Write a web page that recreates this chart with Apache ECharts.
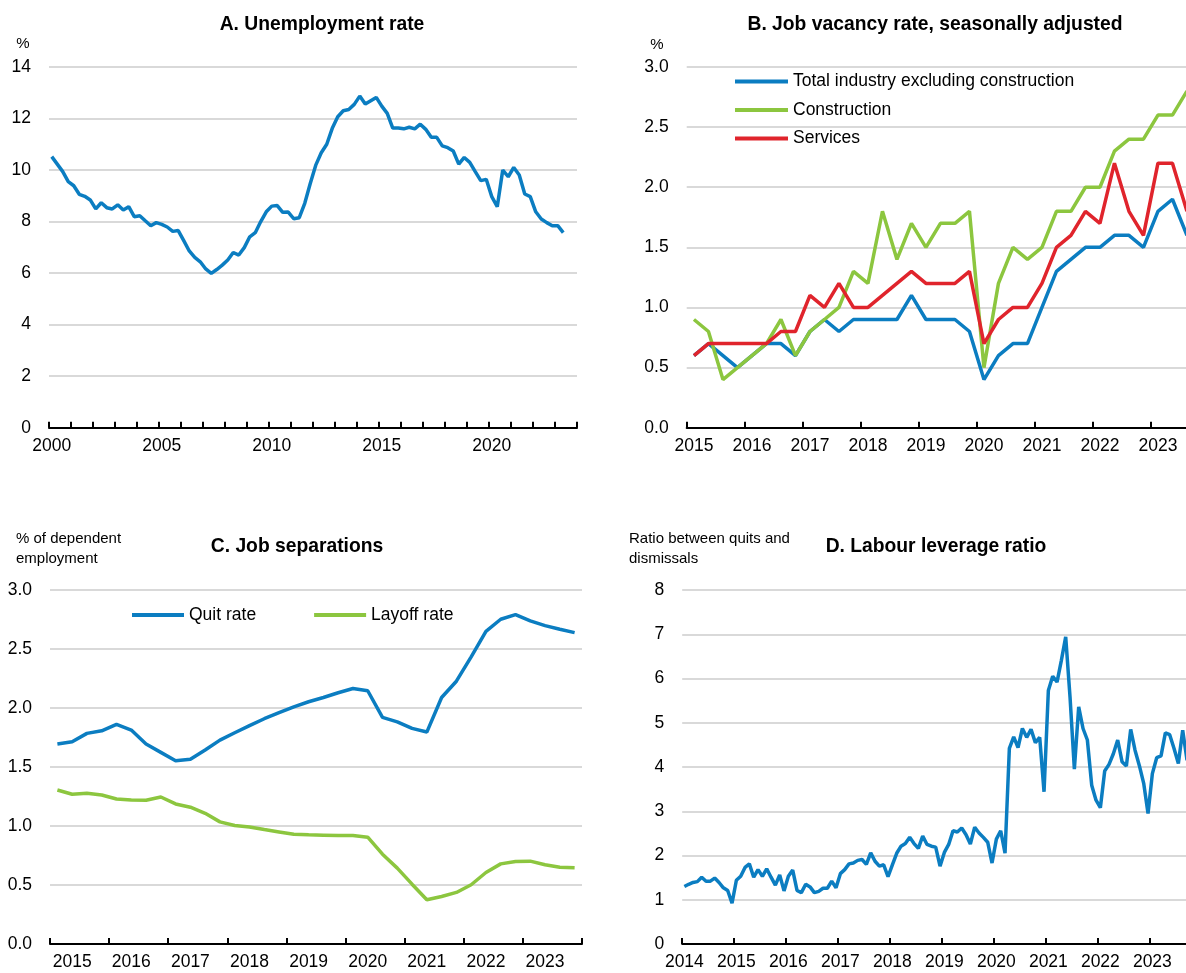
<!DOCTYPE html>
<html>
<head>
<meta charset="utf-8">
<script src="https://cdn.jsdelivr.net/npm/echarts@6/dist/echarts.min.js"></script>
<style>
html,body{margin:0;padding:0;background:#fff;}
#chart{width:1186px;height:973px;}
</style>
</head>
<body>
<div id="chart"></div>
<script>
// ---------- Data ----------
// Panel A: unemployment rate, quarterly 2000Q1-2023Q2
const unempYears = [2000, 2024];
const unemployment = [
  10.52, 10.23, 9.94, 9.55,
  9.39, 9.06, 8.98, 8.84,
  8.49, 8.73, 8.54, 8.49,
  8.65, 8.45, 8.58, 8.19,
  8.23, 8.03, 7.84, 7.96,
  7.89, 7.79, 7.62, 7.65,
  7.26, 6.86, 6.61, 6.44,
  6.16, 5.99, 6.14, 6.31,
  6.51, 6.80, 6.70, 6.99,
  7.41, 7.57, 8.00, 8.38,
  8.60, 8.62, 8.36, 8.37,
  8.11, 8.15, 8.71, 9.48,
  10.19, 10.67, 11.00, 11.62,
  12.07, 12.30, 12.35, 12.55,
  12.87, 12.56, 12.69, 12.82,
  12.48, 12.20, 11.63, 11.63,
  11.60, 11.66, 11.60, 11.78,
  11.58, 11.27, 11.27, 10.94,
  10.87, 10.74, 10.23, 10.49,
  10.30, 9.94, 9.59, 9.64,
  8.97, 8.58, 10.00, 9.74,
  10.10, 9.81, 9.07, 8.97,
  8.38, 8.10, 7.96, 7.84,
  7.84, 7.57
];

// Panel B: job vacancy rate, quarterly 2015Q1-2023Q3
const vacancyYears = [2015, 2024];
const vacTotalExConstr = [
  0.6, 0.7, 0.6, 0.5, 0.6, 0.7, 0.7, 0.6, 0.8, 0.9, 0.8, 0.9,
  0.9, 0.9, 0.9, 1.1, 0.9, 0.9, 0.9, 0.8, 0.4, 0.6, 0.7, 0.7,
  1.0, 1.3, 1.4, 1.5, 1.5, 1.6, 1.6, 1.5, 1.8, 1.9, 1.6
];
const vacConstruction = [
  0.9, 0.8, 0.4, 0.5, 0.6, 0.7, 0.9, 0.6, 0.8, 0.9, 1.0, 1.3,
  1.2, 1.8, 1.4, 1.7, 1.5, 1.7, 1.7, 1.8, 0.5, 1.2, 1.5, 1.4,
  1.5, 1.8, 1.8, 2.0, 2.0, 2.3, 2.4, 2.4, 2.6, 2.6, 2.8
];
const vacServices = [
  0.6, 0.7, 0.7, 0.7, 0.7, 0.7, 0.8, 0.8, 1.1, 1.0, 1.2, 1.0,
  1.0, 1.1, 1.2, 1.3, 1.2, 1.2, 1.2, 1.3, 0.7, 0.9, 1.0, 1.0,
  1.2, 1.5, 1.6, 1.8, 1.7, 2.2, 1.8, 1.6, 2.2, 2.2, 1.8
];

// Panel C: job separations, quarterly 2015Q1-2023Q4
const separationYears = [2015, 2024];
const quitRate = [
  1.695, 1.714, 1.785, 1.807, 1.861, 1.813, 1.695, 1.624, 1.553, 1.565, 1.644, 1.728,
  1.790, 1.850, 1.909, 1.960, 2.010, 2.053, 2.089, 2.129, 2.165, 2.146, 1.920, 1.883,
  1.827, 1.796, 2.089, 2.227, 2.433, 2.650, 2.752, 2.791, 2.738, 2.698, 2.667, 2.639
];
const layoffRate = [
  1.305, 1.269, 1.277, 1.263, 1.229, 1.221, 1.218, 1.246, 1.187, 1.159, 1.108, 1.035,
  1.004, 0.992, 0.970, 0.950, 0.930, 0.925, 0.922, 0.919, 0.919, 0.905, 0.761, 0.643,
  0.507, 0.375, 0.403, 0.437, 0.502, 0.606, 0.679, 0.699, 0.702, 0.671, 0.651, 0.646
];

// Panel D: labour leverage ratio, monthly 2014-01 onwards
const leverageYears = [2014, 2024];
const leverageRatio = [
  1.30, 1.35, 1.39, 1.41, 1.51, 1.42, 1.42, 1.49, 1.39, 1.27, 1.21, 0.92,
  1.44, 1.53, 1.73, 1.81, 1.51, 1.68, 1.53, 1.70, 1.51, 1.33, 1.56, 1.20,
  1.53, 1.67, 1.21, 1.16, 1.35, 1.29, 1.16, 1.19, 1.26, 1.26, 1.42, 1.27,
  1.59, 1.68, 1.81, 1.83, 1.89, 1.91, 1.80, 2.06, 1.87, 1.76, 1.79, 1.52,
  1.79, 2.05, 2.21, 2.27, 2.41, 2.27, 2.16, 2.44, 2.25, 2.21, 2.19, 1.76,
  2.07, 2.25, 2.56, 2.53, 2.62, 2.47, 2.26, 2.64, 2.51, 2.41, 2.30, 1.83,
  2.37, 2.56, 2.05, 4.42, 4.68, 4.44, 4.87, 4.67, 4.85, 4.55, 4.67, 3.44,
  5.73, 6.05, 5.92, 6.41, 6.94, 5.58, 3.95, 5.36, 4.87, 4.61, 3.59, 3.25,
  3.08, 3.91, 4.06, 4.30, 4.61, 4.12, 4.02, 4.85, 4.38, 4.03, 3.63, 2.95,
  3.85, 4.21, 4.25, 4.77, 4.73, 4.42, 4.08, 4.83, 4.15
];

// ---------- Helpers ----------
function periods(range, perYear) {
  const out = [];
  for (let y = range[0]; y < range[1]; y++) {
    for (let p = 1; p <= perYear; p++) out.push(y + (perYear === 4 ? 'Q' : '-') + p);
  }
  return out;
}
const catA = periods(unempYears, 4);
const catB = periods(vacancyYears, 4);
const catC = periods(separationYears, 4);
const catD = periods(leverageYears, 12);

const FONT = "'Liberation Sans', Arial, sans-serif";
const BLUE = '#0B7DC1', GREEN = '#8CC63F', RED = '#E0242C';
const GRID = '#d9d9d9';
const LBL = 17.5;

function xAxis(gridIndex, cats, perYear, labelEvery, labelOffset) {
  return {
    type: 'category', gridIndex, data: cats, boundaryGap: true,
    axisLine: { show: true, lineStyle: { color: '#000', width: 2 } },
    axisTick: { show: true, inside: true, length: 6, lineStyle: { color: '#000', width: 2 },
      interval: (i) => i % perYear === 0 },
    axisLabel: { color: '#000', fontFamily: FONT, fontSize: LBL, margin: 9,
      interval: (i) => i % labelEvery === labelOffset,
      formatter: (v) => v.slice(0, 4) },
    splitLine: { show: false }
  };
}
function yAxis(gridIndex, max, interval, dec) {
  return {
    type: 'value', gridIndex, min: 0, max, interval,
    axisLine: { show: false }, axisTick: { show: false },
    axisLabel: { color: '#000', fontFamily: FONT, fontSize: LBL, margin: 18,
      formatter: (v) => v.toFixed(dec) },
    splitLine: { show: true, lineStyle: { color: GRID, width: 2 } }
  };
}
function line(name, data, idx, color) {
  return { type: 'line', name, data, xAxisIndex: idx, yAxisIndex: idx,
    symbol: 'none', lineStyle: { color, width: 3.5 }, itemStyle: { color },
    clip: true, animation: false };
}
function txt(x, y, text, opts) {
  return { type: 'text', x, y, silent: true,
    style: Object.assign({ text, fill: '#000', font: '15px ' + FONT,
      textAlign: 'left', textVerticalAlign: 'middle' }, opts || {}) };
}
const TITLE_FONT = 'bold 19.3px ' + FONT;

const chart = echarts.init(document.getElementById('chart'), null, { renderer: 'canvas' });
chart.setOption({
  animation: false,
  backgroundColor: '#fff',
  grid: [
    { left: 49, top: 67, width: 528, height: 360.7, outerBoundsMode: 'none', containLabel: false },
    { left: 686.7, top: 67, width: 522, height: 360.7, outerBoundsMode: 'none', containLabel: false },
    { left: 50, top: 590, width: 532, height: 354, outerBoundsMode: 'none', containLabel: false },
    { left: 682.2, top: 590, width: 520, height: 354, outerBoundsMode: 'none', containLabel: false }
  ],
  xAxis: [
    xAxis(0, catA, 4, 20, 0),
    xAxis(1, catB, 4, 4, 0),
    xAxis(2, catC, 4, 4, 1),
    xAxis(3, catD, 12, 12, 0)
  ],
  yAxis: [
    yAxis(0, 14, 2, 0),
    yAxis(1, 3, 0.5, 1),
    yAxis(2, 3, 0.5, 1),
    yAxis(3, 8, 1, 0)
  ],
  legend: [
    { data: ['Total industry excluding construction', 'Construction', 'Services'],
      orient: 'vertical', left: 735, top: 71, padding: 0, itemGap: 7.5,
      icon: 'rect', itemWidth: 53, itemHeight: 4,
      textStyle: { fontFamily: FONT, fontSize: LBL, color: '#000', lineHeight: 21 } },
    { data: ['Quit rate', 'Layoff rate'],
      orient: 'horizontal', left: 132, top: 604.5, padding: 0, itemGap: 58,
      icon: 'rect', itemWidth: 52, itemHeight: 4,
      textStyle: { fontFamily: FONT, fontSize: LBL, color: '#000', lineHeight: 21 } }
  ],
  series: [
    line('Unemployment rate', unemployment, 0, BLUE),
    line('Total industry excluding construction', vacTotalExConstr, 1, BLUE),
    line('Construction', vacConstruction, 1, GREEN),
    line('Services', vacServices, 1, RED),
    line('Quit rate', quitRate, 2, BLUE),
    line('Layoff rate', layoffRate, 2, GREEN),
    line('Labour leverage ratio', leverageRatio, 3, BLUE)
  ],
  graphic: [
    txt(322, 25, 'A. Unemployment rate', { font: TITLE_FONT, textAlign: 'center' }),
    txt(935, 25, 'B. Job vacancy rate, seasonally adjusted', { font: TITLE_FONT, textAlign: 'center' }),
    txt(297, 547, 'C. Job separations', { font: TITLE_FONT, textAlign: 'center' }),
    txt(936, 547, 'D. Labour leverage ratio', { font: TITLE_FONT, textAlign: 'center' }),
    txt(23, 44, '%', { textAlign: 'center' }),
    txt(657, 45, '%', { textAlign: 'center' }),
    txt(16, 539, '% of dependent'),
    txt(16, 559, 'employment'),
    txt(629, 539, 'Ratio between quits and'),
    txt(629, 559, 'dismissals')
  ]
});
</script>
</body>
</html>
